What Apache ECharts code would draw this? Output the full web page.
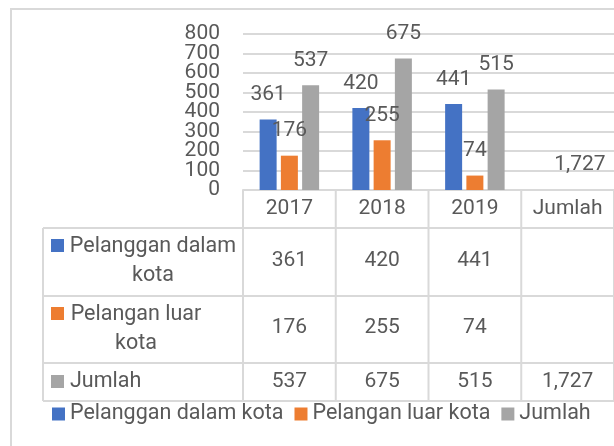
<!DOCTYPE html>
<html>
<head>
<meta charset="utf-8">
<script src="https://cdn.jsdelivr.net/npm/echarts@6/dist/echarts.min.js"></script>
<style>
  html, body { margin: 0; padding: 0; background: #fff; }
  #chart { width: 614px; height: 446px; }
</style>
</head>
<body>
<div id="chart"></div>
<script>
// data
const categories = ['2017', '2018', '2019', 'Jumlah'];
const seriesNames = ['Pelanggan dalam kota', 'Pelangan luar kota', 'Jumlah'];
const dalamKota = [361, 420, 441, null];
const luarKota = [176, 255, 74, null];
const jumlah = [537, 675, 515, 1727];
const rowLabels = ['Pelanggan dalam\nkota', 'Pelangan luar\nkota', 'Jumlah'];
const yTicks = { min: 0, max: 800, interval: 100 };

const colors = ['#4472C4', '#ED7D31', '#A5A5A5'];
const textColor = '#595959';
const lineColor = '#D9D9D9';
const font = 'Roboto';

window.addEventListener('load', function () {
    let chart = echarts.init(document.getElementById('chart'));
    let values = [dalamKota, luarKota, jumlah];

    let labelStyle = {
        show: true,
        position: 'top',
        distance: 14,
        fontSize: 21,
        fontFamily: font,
        color: textColor,
        formatter: p => p.value == null ? '' : p.value.toLocaleString('en-US')
    };

    let series = values.map((vals, i) => ({
        name: seriesNames[i],
        type: 'bar',
        barWidth: 17,
        barGap: '25%',
        itemStyle: { color: colors[i] },
        label: labelStyle,
        data: vals.map((v, j) => {
            // total bar is far above the axis max: excel hides it and keeps only the label
            if (v != null && v > yTicks.max) {
                return {
                    value: v,
                    itemStyle: { color: 'rgba(0,0,0,0)' },
                    label: { position: 'insideBottom', distance: 15, offset: [-9, 0] }
                };
            }
            return v;
        })
    }));

    let yLabel = { fontSize: 21, color: textColor, margin: 23, fontFamily: font };

    let option = {
        backgroundColor: '#fff',
        animation: false,
        textStyle: { fontFamily: font },
        grid: { left: 243, top: 34, width: 383, height: 156 },
        legend: {
            data: seriesNames,
            left: 52,
            top: 403,
            padding: 0,
            icon: 'rect',
            itemWidth: 13,
            itemHeight: 13,
            itemGap: 11,
            textStyle: { fontSize: 21.5, color: textColor, fontFamily: font }
        },
        xAxis: {
            type: 'category',
            data: categories,
            axisTick: { show: false },
            axisLine: { lineStyle: { color: lineColor, width: 2 } },
            axisLabel: { fontSize: 21, color: textColor, margin: 8, fontFamily: font }
        },
        yAxis: [{
            // inner ticks; the end labels come from the second axis so they are not
            // dropped for crowding their neighbours
            type: 'value',
            position: 'left',
            min: yTicks.min,
            max: yTicks.max,
            interval: yTicks.interval,
            axisLine: { show: false },
            axisTick: { show: false },
            splitLine: { lineStyle: { color: lineColor, width: 2 } },
            axisLabel: Object.assign({ showMinLabel: false, showMaxLabel: false }, yLabel)
        }, {
            type: 'value',
            position: 'left',
            min: yTicks.min,
            max: yTicks.max,
            interval: yTicks.max - yTicks.min,
            axisLine: { show: false },
            axisTick: { show: false },
            splitLine: { show: false },
            axisLabel: yLabel
        }],
        series: series
    };
    chart.setOption(option);

    // data table under the plot, laid out on the category axis
    let centers = categories.map(c => chart.convertToPixel({ xAxisIndex: 0 }, c));
    let band = centers[1] - centers[0];
    let plotLeft = centers[0] - band / 2;
    let plotRight = centers[centers.length - 1] + band / 2;
    let axisY = chart.convertToPixel({ yAxisIndex: 0 }, 0);
    let rowLines = [228, 296, 363, 401];
    let tableLeft = 43;
    let rowCenters = [261, 328, 382];

    let g = [];
    // outer chart border
    g.push({ type: 'rect', shape: { x: 11, y: 9, width: 640, height: 460 },
        style: { fill: null, stroke: lineColor, lineWidth: 2 } });

    rowLines.forEach(y => g.push({ type: 'line',
        shape: { x1: tableLeft, y1: y, x2: plotRight, y2: y },
        style: { stroke: lineColor, lineWidth: 2 } }));
    g.push({ type: 'line', shape: { x1: tableLeft, y1: rowLines[0], x2: tableLeft, y2: rowLines[3] },
        style: { stroke: lineColor, lineWidth: 2 } });
    for (let k = 0; k <= categories.length; k++) {
        let x = plotLeft + k * band;
        g.push({ type: 'line', shape: { x1: x, y1: axisY, x2: x, y2: rowLines[3] },
            style: { stroke: lineColor, lineWidth: 2 } });
    }

    let keyX = [153, 136, 70];
    let keyAlign = ['center', 'center', 'left'];
    values.forEach((vals, i) => {
        let cy = rowCenters[i];
        let top = rowLines[i];
        // legend key in the row header
        let keyY = i < 2 ? top + 11 : cy - 7;
        g.push({ type: 'rect', shape: { x: 51, y: keyY, width: 13, height: 13 },
            style: { fill: colors[i] } });
        g.push({ type: 'text', x: keyX[i], y: i < 2 ? top + 4 : cy,
            style: { text: rowLabels[i], fill: textColor, fontSize: 21.5, fontFamily: font,
                lineHeight: 29, align: keyAlign[i], verticalAlign: i < 2 ? 'top' : 'middle' } });
        vals.forEach((v, j) => {
            if (v == null) return;
            g.push({ type: 'text', x: centers[j], y: cy,
                style: { text: v.toLocaleString('en-US'), fill: textColor, fontSize: 21,
                    fontFamily: font, align: 'center', verticalAlign: 'middle' } });
        });
    });

    chart.setOption({ graphic: g });
});
</script>
</body>
</html>
